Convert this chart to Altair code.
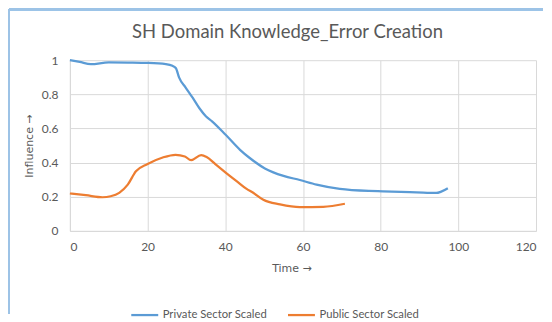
import altair as alt
import pandas as pd

private_x = [0, 2.5, 5.4, 10, 15, 20, 24.7, 26.4, 27.3, 28.1, 29.8, 31.6, 33.3, 35, 36.6,
             40.1, 43.8, 46.3, 50.2, 55, 59.2, 63.5, 69.5, 77, 80.6, 89.2, 94.3, 95.6, 97.3]
private_y = [1.0, 0.99, 0.977, 0.987, 0.986, 0.984, 0.977, 0.967, 0.953, 0.899, 0.84, 0.78,
             0.72, 0.672, 0.642, 0.563, 0.475, 0.427, 0.366, 0.322, 0.298, 0.271, 0.246,
             0.234, 0.232, 0.226, 0.222, 0.23, 0.25]

public_x = [0, 4.1, 8.4, 10.5, 12.7, 14.9, 17, 20, 23.9, 27.2, 29.6, 31.2, 33.8, 35.2, 37.5,
            40.1, 43, 45.5, 47.2, 49.8, 54.1, 59.2, 65.2, 70.8]
public_y = [0.219, 0.209, 0.197, 0.203, 0.223, 0.271, 0.349, 0.392, 0.43, 0.446, 0.436,
            0.414, 0.444, 0.433, 0.39, 0.342, 0.29, 0.246, 0.223, 0.182, 0.155, 0.139,
            0.141, 0.159]

series_names = ["Private Sector Scaled", "Public Sector Scaled"]
series_colors = ["#5B9BD5", "#ED7D31"]
x_ticks = [0, 20, 40, 60, 80, 100, 120]
y_ticks = [0, 0.2, 0.4, 0.6, 0.8, 1]
chart_title = "SH Domain Knowledge_Error Creation"

rows = []
for i, (xv, yv) in enumerate(zip(private_x, private_y)):
    rows.append({"Time": xv, "Influence": yv, "Series": series_names[0], "order": i})
for i, (xv, yv) in enumerate(zip(public_x, public_y)):
    rows.append({"Time": xv, "Influence": yv, "Series": series_names[1], "order": i})
df = pd.DataFrame(rows)

FONT = "Lato"
TFONT = "DejaVu Sans"
GREY = "#595959"
W, H = 467, 171
PL, PT = 62, 52
TOTAL_W, TOTAL_H = 536, 306
TOP_Y = -PT + 1

lines = alt.Chart(df).mark_line(strokeWidth=2.25, interpolate="monotone").encode(
    x=alt.X("Time:Q", scale=alt.Scale(domain=[0, 120], nice=False),
            axis=alt.Axis(values=x_ticks, title="Time →", grid=True, ticks=False,
                          tickSize=0, labelPadding=11, titleX=222, titleY=41,
                          titleBaseline="alphabetic", titleAlign="center")),
    y=alt.Y("Influence:Q", scale=alt.Scale(domain=[0, 1], nice=False),
            axis=alt.Axis(values=y_ticks, format="~g", title="Influence →", grid=True,
                          ticks=False, tickSize=0, labelPadding=12, titleX=-40,
                          titleY=H / 2, titleAngle=270, titleAlign="center",
                          titleBaseline="middle")),
    color=alt.Color("Series:N",
                    scale=alt.Scale(domain=series_names, range=series_colors),
                    legend=alt.Legend(title=None, orient="none", direction="horizontal",
                                      legendX=60, legendY=240, symbolType="stroke",
                                      symbolSize=729, symbolStrokeWidth=2.25,
                                      labelOffset=3, columnPadding=16,
                                      labelFont=FONT, labelFontSize=11.3,
                                      labelColor=GREY)),
    order="order:Q",
)

title_text = alt.Chart(pd.DataFrame({"t": [chart_title]})).mark_text(
    font=FONT, fontSize=18.5, color=GREY, align="center", baseline="alphabetic", clip=False
).encode(text="t:N", x=alt.value(218), y=alt.value(-22))

border_top = alt.Chart(df).mark_rule(color="#9DC3E6", strokeWidth=2, clip=False).encode(
    x=alt.value(-PL + 1), x2=alt.value(TOTAL_W - PL), y=alt.value(TOP_Y)
)
border_left = alt.Chart(df).mark_rule(color="#9DC3E6", strokeWidth=2, clip=False).encode(
    x=alt.value(-PL + 1), y=alt.value(TOP_Y), y2=alt.value(TOTAL_H - PT)
)

chart = alt.layer(lines, title_text, border_top, border_left).properties(
    width=W, height=H,
    padding=0,
    background="white",
).configure_view(stroke=None).configure_axis(
    gridColor="#D9D9D9", gridWidth=1, domainColor="#D9D9D9", domainWidth=1,
    labelFont=FONT, labelFontSize=12, labelColor=GREY,
    titleFont=TFONT, titleFontSize=11, titleColor=GREY, titleFontWeight="normal",
)

chart.save("out.html", embed_options={"renderer": "svg", "actions": False})
